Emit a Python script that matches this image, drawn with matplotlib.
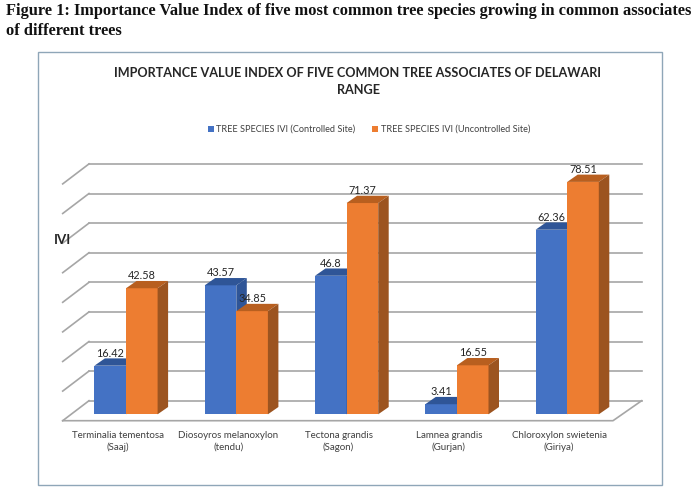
import matplotlib
matplotlib.use("Agg")
import matplotlib.pyplot as plt
from matplotlib.patches import Rectangle

# values
species = ["Terminalia tementosa\n(Saaj)", "Diosoyros melanoxylon\n(tendu)", "Tectona grandis\n(Sagon)",
           "Lamnea grandis\n(Gurjan)", "Chloroxylon swietenia\n(Giriya)"]
controlled = [16.42, 43.57, 46.8, 3.41, 62.36]
uncontrolled = [42.58, 34.85, 71.37, 16.55, 78.51]
controlled_labels = ["16.42", "43.57", "46.8", "3.41", "62.36"]
uncontrolled_labels = ["42.58", "34.85", "71.37", "16.55", "78.51"]
grid_values = [0, 10, 20, 30, 40, 50, 60, 70, 80]

W, H = 700, 491
GROUP_PX = 110.3   # px between groups
UNIT_PX = 2.96     # px per IVI unit
X0_PX = 126        # px of group 0 centre
Y0_PX = 414.3      # px of value 0 (from top)

BAR_W = 31.6 / GROUP_PX
DX = 10.5 / GROUP_PX   # bar depth
DY = 7.3 / UNIT_PX

# floor of the fake 3d box
FLOOR_FRONT = -6.4 / UNIT_PX
FLOOR_BACK = 13.6 / UNIT_PX
WALL_L = (62.7 - X0_PX) / GROUP_PX
WALL_L_BACK = (89 - X0_PX) / GROUP_PX
FRONT_R = (613 - X0_PX) / GROUP_PX
BACK_R = (641.7 - X0_PX) / GROUP_PX

BLUE, BLUE_DARK, BLUE_SIDE = "#4472C4", "#2F5597", "#2F5597"
ORANGE, ORANGE_TOP, ORANGE_SIDE = "#ED7D31", "#B85F1F", "#9C5420"
GRID = "#a6a6a6"
TXT = "#404040"

fig = plt.figure(figsize=(W / 100, H / 100), dpi=100)
fig.patch.set_facecolor("white")
ax = fig.add_axes([0, 0, 1, 1])
ax.set_xlim(-X0_PX / GROUP_PX, (W - X0_PX) / GROUP_PX)
ax.set_ylim((Y0_PX - H) / UNIT_PX, Y0_PX / UNIT_PX)
ax.axis("off")

# chart frame
fig.add_artist(Rectangle((38 / W, 1 - 484.5 / H), 623.5 / W, 432.5 / H, transform=fig.transFigure,
                         fill=False, edgecolor="#8fa6b8", linewidth=1.0))

# back wall lines and the slanted ones on the left
for v in grid_values:
    back = v + FLOOR_BACK
    front = v + FLOOR_FRONT
    ax.plot([WALL_L_BACK, BACK_R], [back, back], color=GRID, lw=1.2, zorder=1)
    ax.plot([WALL_L, WALL_L_BACK], [front, back], color=GRID, lw=1.2, zorder=1)

# floor
ax.plot([WALL_L, FRONT_R, BACK_R], [FLOOR_FRONT, FLOOR_FRONT, FLOOR_BACK], color=GRID, lw=1.2, zorder=1)


def draw_bar(left, val, face, top, side, z):
    right = left + BAR_W
    ax.bar(left, val, width=BAR_W, align="edge", color=face, linewidth=0, zorder=z)
    ax.fill([left, right, right + DX, left + DX], [val, val, val + DY, val + DY], color=top, lw=0, zorder=z)
    ax.fill([right, right + DX, right + DX, right], [0, DY, val + DY, val], color=side, lw=0, zorder=z)


for i in range(len(species)):
    left = i - BAR_W
    draw_bar(left, controlled[i], BLUE, BLUE_DARK, BLUE_SIDE, 2 + i * 2)
    draw_bar(i, uncontrolled[i], ORANGE, ORANGE_TOP, ORANGE_SIDE, 3 + i * 2)
    ax.text(left + BAR_W / 2, controlled[i] + 4.25, controlled_labels[i], ha="center", va="center",
            fontsize=7.8, family="Lato", color="#262626", zorder=20)
    ax.text(i + BAR_W / 2, uncontrolled[i] + 4.25, uncontrolled_labels[i], ha="center", va="center",
            fontsize=7.8, family="Lato", color="#262626", zorder=20)
    ax.text(i - 8 / GROUP_PX, -(441.5 - Y0_PX) / UNIT_PX, species[i], ha="center", va="center",
            fontsize=7.0, family="Lato", color=TXT, linespacing=1.4)

# caption above the chart
fig.text(6 / W, 1 - 11 / H, "Figure 1: Importance Value Index of five most common tree species growing in common associates",
         fontsize=11.75, family="Liberation Serif", fontweight="bold", va="center", color="#111111")
fig.text(6 / W, 1 - 31 / H, "of different trees",
         fontsize=11.75, family="Liberation Serif", fontweight="bold", va="center", color="#111111")

# chart title
fig.text(358 / W, 1 - 81 / H, "IMPORTANCE VALUE INDEX OF FIVE COMMON TREE ASSOCIATES OF DELAWARI\nRANGE",
         fontsize=9.1, family="Lato", fontweight="bold", ha="center", va="center", color="#262626", linespacing=1.5)

# legend, placed by hand to match the reference
for sw_x, txt_x, col, lab in [(208, 216.5, BLUE, "TREE SPECIES IVI (Controlled Site)"),
                              (372, 381, ORANGE, "TREE SPECIES IVI (Uncontrolled Site)")]:
    fig.add_artist(Rectangle((sw_x / W, 1 - 132 / H), 6 / W, 6 / H, transform=fig.transFigure, color=col, lw=0))
    fig.text(txt_x / W, 1 - 129 / H, lab, fontsize=6.6, family="Lato", va="center", color=TXT)

fig.text(54 / W, 1 - 240 / H, "IVI", fontsize=9.5, family="Lato", fontweight="bold", va="center", color="#262626")

fig.savefig("out.png", dpi=100)
